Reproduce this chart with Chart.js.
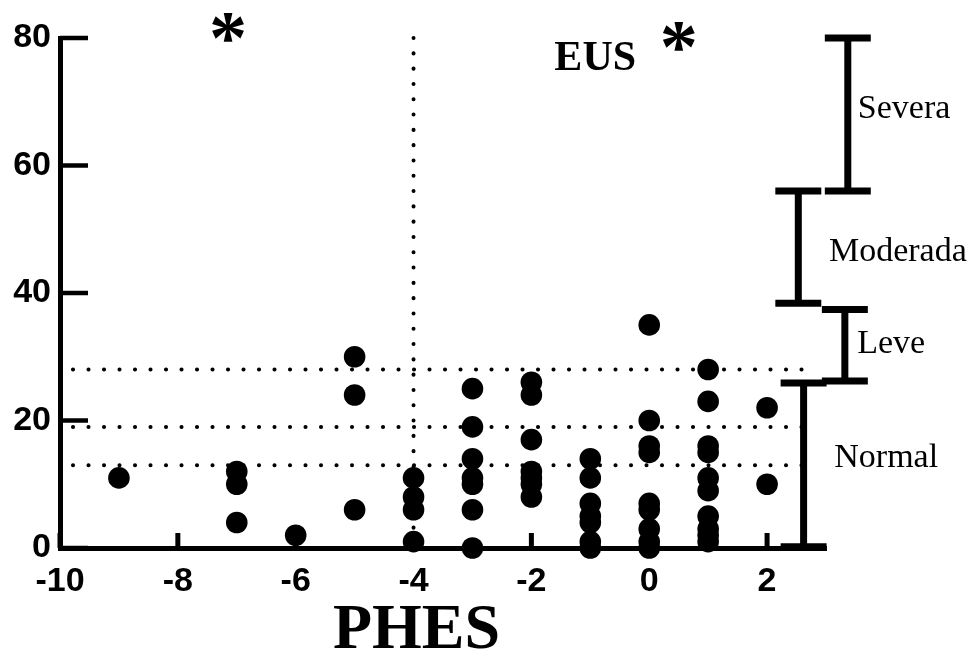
<!DOCTYPE html>
<html>
<head>
<meta charset="utf-8">
<script src="https://cdn.jsdelivr.net/npm/chart.js@4"></script>
<style>
  html, body { margin: 0; padding: 0; background: #fff; }
  #wrap { width: 974px; height: 668px; }
</style>
</head>
<body>
<div id="wrap"><canvas id="chart" width="974" height="668"></canvas></div>
<script>
// PHES vs EUS scatter with severity brackets

const phesCats = [-9, -7, -6, -5, -4, -3, -2, -1, 0, 1, 2];
const eusByPhes = [
  [11],
  [12, 10, 4],
  [2],
  [30, 24, 6],
  [11, 8, 6, 1],
  [25, 19, 14, 11, 10, 6, 0],
  [26, 24, 17, 12, 11, 10, 8],
  [14, 11, 7, 5, 4, 1, 0],
  [35, 20, 16, 15, 7, 6, 3, 1, 0],
  [28, 23, 16, 15, 11, 9, 5, 3, 2, 1],
  [22, 10]
];
const xTicks = [-10, -8, -6, -4, -2, 0, 2];
const yTicks = [0, 20, 40, 60, 80];
const eusCutoffs = [13, 19, 28];
const phesCutoff = -4;
const severityNames = ['Severa', 'Moderada', 'Leve', 'Normal'];
const severityLow = [56, 38.4, 26.2, 0.2];
const severityHigh = [80, 56, 37.4, 25.9];

const points = [];
phesCats.forEach((x, i) => eusByPhes[i].forEach(y => points.push({ x, y })));

// where the brackets and their labels sit (layout only)
const bracketX = [3.37, 2.53, 3.32, 2.62];
const capHalf = 0.39;
const labelPos = [
  { x: 3.54, y: 67.5 },
  { x: 3.05, y: 45 },
  { x: 3.53, y: 30.6 },
  { x: 3.14, y: 12.7 }
];

const cutoffSets = eusCutoffs.map(v => ({
  data: [{ x: -9.78, y: v }, { x: 2.8, y: v }],
  showLine: true,
  borderColor: '#000',
  borderWidth: 4,
  borderDash: [0.1, 15.4],
  borderCapStyle: 'round',
  pointRadius: 0,
  clip: false
}));

const verticalCut = {
  data: [{ x: phesCutoff, y: 80 }, { x: phesCutoff, y: 0 }],
  showLine: true,
  borderColor: '#000',
  borderWidth: 4,
  borderDash: [0.1, 15.2],
  borderCapStyle: 'round',
  pointRadius: 0,
  clip: false
};

const bracketSets = severityNames.map((name, i) => {
  const bx = bracketX[i], lo = severityLow[i], hi = severityHigh[i];
  return {
    label: name,
    data: [
      { x: bx - capHalf, y: hi }, { x: bx + capHalf, y: hi }, { x: bx, y: hi },
      { x: bx, y: lo }, { x: bx - capHalf, y: lo }, { x: bx + capHalf, y: lo }
    ],
    showLine: true,
    borderColor: '#000',
    borderWidth: 7,
    borderCapStyle: 'butt',
    borderJoinStyle: 'miter',
    pointRadius: 0,
    clip: false
  };
});

const pointSet = {
  label: 'EUS',
  data: points,
  backgroundColor: '#000',
  borderWidth: 0,
  pointRadius: 10.8,
  pointHoverRadius: 10.8,
  clip: false
};

// inward tick marks and free text
const annotations = {
  id: 'annotations',
  afterDatasetsDraw(chart) {
    const { ctx, scales: { x, y } } = chart;
    ctx.save();
    ctx.strokeStyle = '#000';
    ctx.fillStyle = '#000';

    ctx.lineWidth = 4.5;
    yTicks.forEach(v => {
      const py = y.getPixelForValue(v);
      ctx.beginPath();
      ctx.moveTo(x.left, py);
      ctx.lineTo(x.left + 28, py);
      ctx.stroke();
    });
    ctx.lineWidth = 5;
    xTicks.forEach(v => {
      const px = x.getPixelForValue(v);
      ctx.beginPath();
      ctx.moveTo(px, y.bottom);
      ctx.lineTo(px, y.bottom - 15);
      ctx.stroke();
    });

    ctx.textAlign = 'left';
    ctx.textBaseline = 'alphabetic';
    ctx.font = '34px "Liberation Serif"';
    severityNames.forEach((n, i) => {
      ctx.fillText(n, x.getPixelForValue(labelPos[i].x), y.getPixelForValue(labelPos[i].y));
    });

    ctx.font = 'bold 42px "Liberation Serif"';
    ctx.fillText('EUS', x.getPixelForValue(-1.61), y.getPixelForValue(75));

    // x axis title
    ctx.textAlign = 'center';
    ctx.font = 'bold 64px "Liberation Serif"';
    ctx.fillText('PHES', x.getPixelForValue(-3.95), y.bottom + 100);
    ctx.textAlign = 'left';

    // asterisks, sized and centred from the glyph box
    ctx.font = 'bold 100px "Liberation Serif"';
    let m = ctx.measureText('*');
    const size = 100 * 32 / (m.actualBoundingBoxLeft + m.actualBoundingBoxRight);
    ctx.font = 'bold ' + size + 'px "Liberation Serif"';
    m = ctx.measureText('*');
    [{ x: -7.15, y: 81.6 }, { x: 0.5, y: 80.3 }].forEach(p => {
      const cx = x.getPixelForValue(p.x), cy = y.getPixelForValue(p.y);
      const dx = (m.actualBoundingBoxRight - m.actualBoundingBoxLeft) / 2;
      const dy = (m.actualBoundingBoxAscent - m.actualBoundingBoxDescent) / 2;
      ctx.fillText('*', cx - dx, cy + dy);
    });
    ctx.restore();
  }
};

const tickFont = { family: 'Liberation Sans', weight: 'bold', size: 34 };

new Chart(document.getElementById('chart'), {
  type: 'scatter',
  data: {
    datasets: [pointSet, ...cutoffSets, verticalCut, ...bracketSets]
  },
  options: {
    responsive: false,
    animation: false,
    devicePixelRatio: 1,
    layout: { padding: { left: 0, right: 148, top: 38, bottom: 0 } },
    plugins: { legend: { display: false }, tooltip: { enabled: false } },
    scales: {
      x: {
        type: 'linear',
        min: -10,
        max: 3,
        grid: { display: false, drawTicks: false },
        border: { display: true, color: '#000', width: 5 },
        afterBuildTicks: s => { s.ticks = xTicks.map(v => ({ value: v })); },
        afterFit: s => { s.height = 120; },
        ticks: { font: tickFont, color: '#000', padding: 13, maxRotation: 0 }
      },
      y: {
        type: 'linear',
        min: 0,
        max: 80,
        grid: { display: false, drawTicks: false },
        border: { display: true, color: '#000', width: 5 },
        afterBuildTicks: s => { s.ticks = yTicks.map(v => ({ value: v })); },
        afterFit: s => { s.width = 60; },
        ticks: { font: tickFont, color: '#000', padding: 9 }
      }
    }
  },
  plugins: [annotations]
});
</script>
</body>
</html>
